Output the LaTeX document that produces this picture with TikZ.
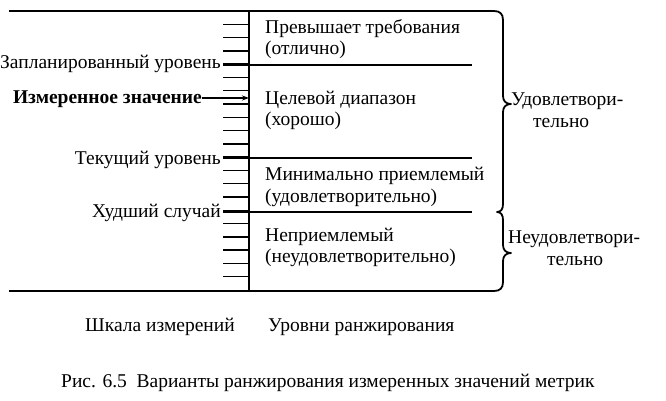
\documentclass[tikz,border=0pt]{standalone}
\usepackage{fontspec}
\setmainfont{Liberation Serif}
\usetikzlibrary{arrows.meta}
\begin{document}
\begin{tikzpicture}[x=1pt,y=-1pt,
  txt/.style={inner sep=0pt,font=\fontsize{19.5}{23}\selectfont},
  mainline/.style={line width=1.8pt,line cap=round},
  tickline/.style={line width=1.5pt},
  sepline/.style={line width=1.8pt},
  brace/.style={line width=1.8pt,line join=round}]
\useasboundingbox (0,0) rectangle (666,400);
% frame and scale
\coordinate (tl) at (9,11);
\coordinate (bl) at (9,291);
\coordinate (st) at (249,11);
\coordinate (sb) at (249,291);
\draw[mainline] (st) -- (sb);
\foreach \i in {1,...,20}{
  \coordinate (t\i) at (223,{11+279/21*\i});
  \draw[tickline] (t\i) -- ++(26,0);
}
% separators
\draw[sepline] (223,65) -- (472,65);
\draw[sepline] (223,158) -- (472,158);
\draw[sepline] (223,212) -- (472,212);
% frame with braces
\draw[brace] (tl) -- (494,11) .. controls (500,11) and (503,14) .. (503,20)
  -- (503,96) .. controls (503,101) and (506,104) .. (511,104)
  .. controls (506,104) and (503,107) .. (503,112)
  -- (503,204) .. controls (503,209) and (501,212) .. (497,212)
  .. controls (501,212) and (503,215) .. (503,220)
  -- (503,245) .. controls (503,250) and (506,253) .. (511,253)
  .. controls (506,253) and (503,256) .. (503,261)
  -- (503,282) .. controls (503,288) and (500,291) .. (494,291) -- (bl);
% left labels
\node[txt,anchor=base east] (plan) at (221,68) {Запланированный уровень};
\node[txt,anchor=base east,font=\fontsize{19.5}{23}\selectfont\bfseries] (meas) at (202,103) {Измеренное значение};
\node[txt,anchor=base east] (cur) at (221,164) {Текущий уровень};
\node[txt,anchor=base east] (worst) at (221,217) {Худший случай};
\coordinate (arrend) at (249,98);
\draw[line width=1.3pt,-{Stealth[length=7pt,width=5pt]}] (meas.east |- arrend) -- (arrend);
% right texts
\node[txt,anchor=base west] (l1) at (265,33) {Превышает требования};
\node[txt,anchor=base west] (l1b) at (265,54) {(отлично)};
\node[txt,anchor=base west] (l2) at (265,104) {Целевой диапазон};
\node[txt,anchor=base west] (l2b) at (265,125) {(хорошо)};
\node[txt,anchor=base west] (l3) at (265,180) {Минимально приемлемый};
\node[txt,anchor=base west] (l3b) at (265,202) {(удовлетворительно)};
\node[txt,anchor=base west] (l4) at (265,241) {Неприемлемый};
\node[txt,anchor=base west] (l4b) at (265,262) {(неудовлетворительно)};
% brace labels
\node[txt,anchor=base west] (ok) at (511,105) {Удовлетвори-};
\node[txt,anchor=base west] (okb) at (533,127) {тельно};
\node[txt,anchor=base west] (bad) at (508,243) {Неудовлетвори-};
\node[txt,anchor=base west] (badb) at (547,265) {тельно};
% bottom captions
\node[txt,anchor=base west] (scale) at (85,331) {Шкала измерений};
\node[txt,anchor=base west] (levels) at (268,331) {Уровни ранжирования};
\node[txt,anchor=base west] (cap) at (61,387) {Рис. 6.5\ \ Варианты ранжирования измеренных значений метрик};
\end{tikzpicture}
\end{document}
